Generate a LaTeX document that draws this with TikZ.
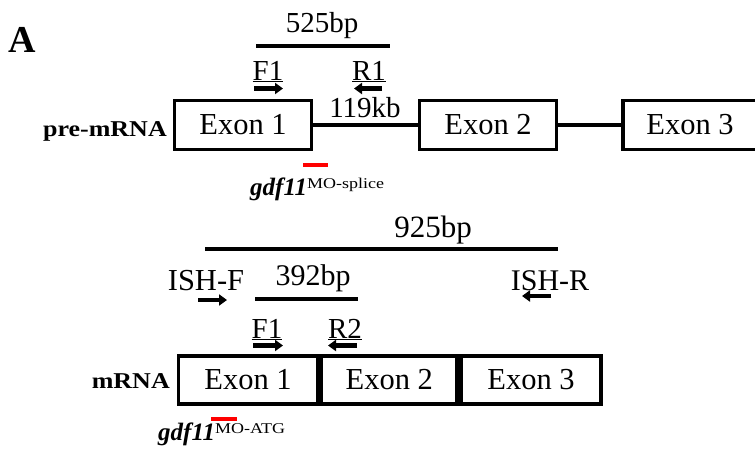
\documentclass[tikz,border=0pt]{standalone}
\usepackage{fontspec}
\usepackage{graphicx}
\setmainfont{Liberation Serif}
\usetikzlibrary{arrows.meta}
\newcommand{\squashy}[2]{\scalebox{1}[#1]{#2}}
\begin{document}
\begin{tikzpicture}[x=1pt,y=-1pt,
  exon/.style={draw, line width=3.8pt, minimum width=#1, minimum height=49pt, inner sep=0pt, font=\fontsize{30.5}{33}\selectfont},
  lbl/.style={inner sep=0pt, font=\fontsize{29}{31}\selectfont},
  rowlbl/.style={inner sep=0pt, font=\fontsize{26}{28}\selectfont\bfseries},
  bar/.style={line width=4.5pt},
  intron/.style={line width=4pt},
  primer/.style={line width=4.5pt, -{Triangle[length=8pt,width=11pt]}},
  mo/.style={line width=4pt, draw=red},
  molbl/.style={inner sep=0pt, font=\fontsize{25}{27}\selectfont}
]
\clip (0,0) rectangle (755,455);
\useasboundingbox (0,0) rectangle (755,455);
\fill[white] (0,0) rectangle (755,455);

% panel letter
\node[anchor=base west, inner sep=0pt, font=\fontsize{38}{40}\selectfont\bfseries] (A) at (8,52) {A};

% ---------- pre-mRNA ----------
\node[rowlbl, anchor=base east] (prelbl) at (167,136) {\squashy{0.87}{pre-mRNA}};
\node[exon=137pt] (pe1) at (243,125) {Exon 1};
\node[exon=137pt] (pe2) at (488,125) {Exon 2};
\node[exon=134pt] (pe3) at (690,125) {Exon 3};
\draw[intron] (pe1.east) -- (pe2.west);
\draw[intron] (pe2.east) -- (pe3.west);
\node[lbl, anchor=base] (kb) at (365,117) {119kb};

\coordinate (b525a) at (256,46);
\coordinate (b525b) at (390,46);
\draw[bar] (b525a) -- (b525b);
\node[lbl, anchor=base] (t525) at (322,32) {525bp};

\node[lbl, anchor=base] (pF1) at (268,80) {\underline{F1}};
\node[lbl, anchor=base] (pR1) at (369,80) {\underline{R1}};
\coordinate (pF1a) at (254,88.5);
\coordinate (pF1b) at (283,88.5);
\coordinate (pR1a) at (382,88.5);
\coordinate (pR1b) at (354,88.5);
\draw[primer] (pF1a) -- (pF1b);
\draw[primer] (pR1a) -- (pR1b);

\coordinate (mo1a) at (303,165);
\coordinate (mo1b) at (328,165);
\draw[mo] (mo1a) -- (mo1b);
\node[molbl, anchor=base west] (mo1) at (250,195) {\textbf{\textit{gdf11}}\raisebox{7pt}{\fontsize{18}{20}\selectfont\squashy{0.83}{MO-splice}}};

% ---------- mRNA ----------
\coordinate (b925a) at (205,249);
\coordinate (b925b) at (558,249);
\draw[bar] (b925a) -- (b925b);
\node[lbl, anchor=base, font=\fontsize{31}{33}\selectfont] (t925) at (433,237) {925bp};

\node[lbl, anchor=base, font=\fontsize{30.5}{33}\selectfont] (ishf) at (206,290) {ISH-F};
\node[lbl, anchor=base, font=\fontsize{30}{33}\selectfont] (ishr) at (550,290) {ISH-R};
\coordinate (ishfa) at (198,300);
\coordinate (ishfb) at (227,300);
\coordinate (ishra) at (551,296);
\coordinate (ishrb) at (522,296);
\draw[primer] (ishfa) -- (ishfb);
\draw[primer] (ishra) -- (ishrb);

\coordinate (b392a) at (255,299);
\coordinate (b392b) at (358,299);
\draw[bar] (b392a) -- (b392b);
\node[lbl, anchor=base, font=\fontsize{30}{33}\selectfont] (t392) at (313,285) {392bp};

\node[lbl, anchor=base] (mF1) at (267,338) {\underline{F1}};
\node[lbl, anchor=base] (mR2) at (345,338) {\underline{R2}};
\coordinate (mF1a) at (253,345.5);
\coordinate (mF1b) at (283,345.5);
\coordinate (mR2a) at (357,345.5);
\coordinate (mR2b) at (328,345.5);
\draw[primer] (mF1a) -- (mF1b);
\draw[primer] (mR2a) -- (mR2b);

\node[rowlbl, anchor=base east] (mlbl) at (170,388) {\squashy{0.87}{mRNA}};
\node[exon=139pt, minimum height=48pt] (me1) at (248,380) {Exon 1};
\node[exon=136pt, minimum height=48pt, anchor=west] (me2) at (me1.east) {Exon 2};
\node[exon=140pt, minimum height=48pt, anchor=west] (me3) at (me2.east) {Exon 3};

\coordinate (mo2a) at (211,419);
\coordinate (mo2b) at (237,419);
\draw[mo] (mo2a) -- (mo2b);
\node[molbl, anchor=base west] (mo2) at (158,440) {\textbf{\textit{gdf11}}\raisebox{7pt}{\fontsize{18}{20}\selectfont\squashy{0.83}{MO-ATG}}};
\end{tikzpicture}
\end{document}
